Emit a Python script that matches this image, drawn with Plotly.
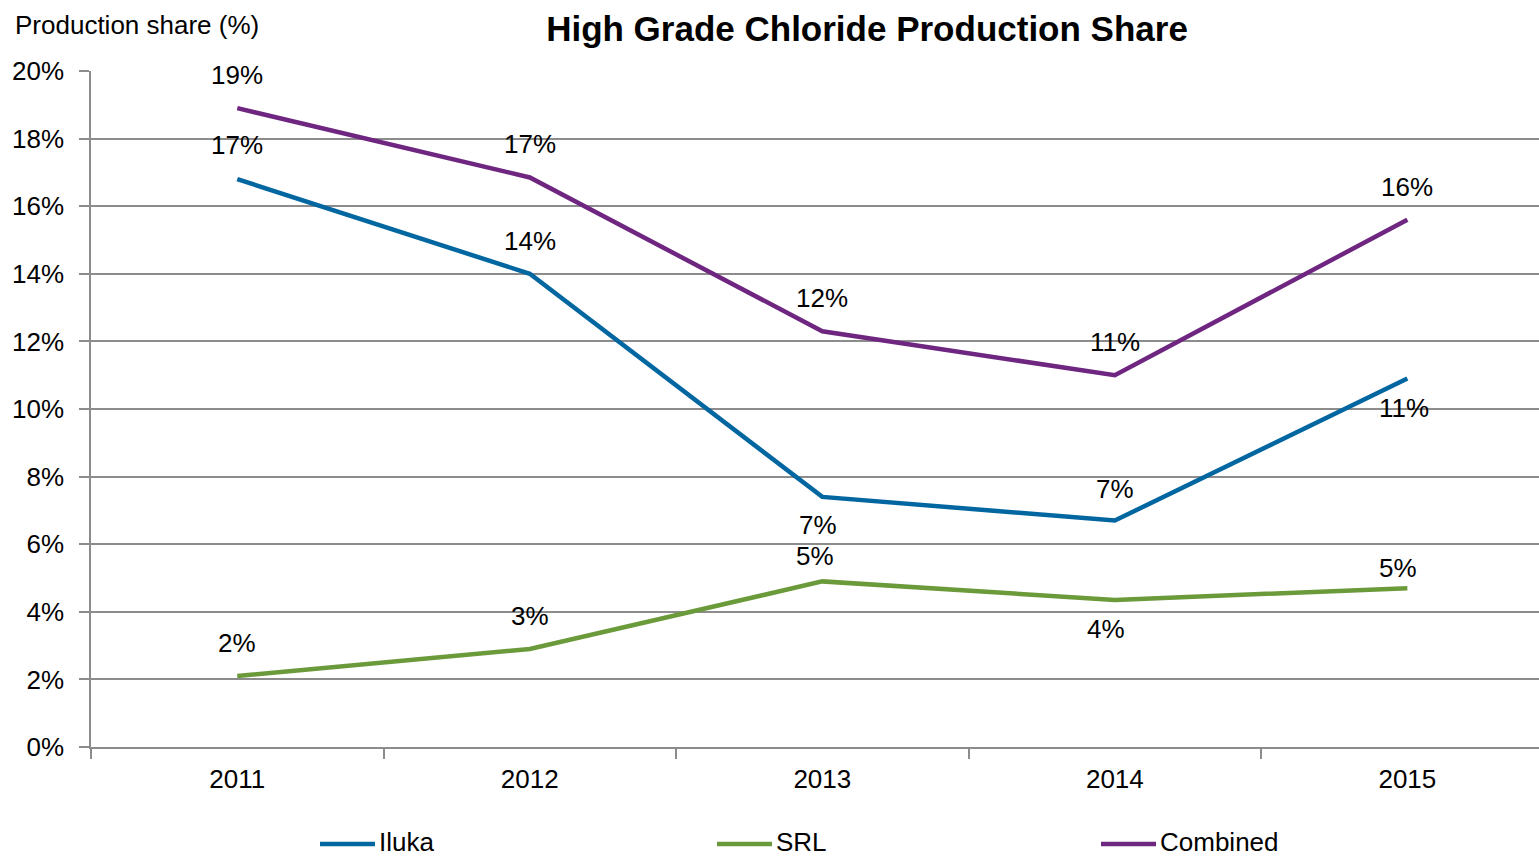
import plotly.graph_objects as go

years = ["2011", "2012", "2013", "2014", "2015"]
iluka = [16.8, 14.0, 7.4, 6.7, 10.9]
srl = [2.1, 2.9, 4.9, 4.35, 4.7]
combined = [18.9, 16.85, 12.3, 11.0, 15.6]

iluka_labels = ["17%", "14%", "7%", "7%", "11%"]
srl_labels = ["2%", "3%", "5%", "4%", "5%"]
combined_labels = ["19%", "17%", "12%", "11%", "16%"]

# label offsets from the point, in pixels (x shift, y shift; positive y = up)
iluka_off = [(0, 34), (0, 33), (-4, -28), (0, 32), (-3, -29)]
srl_off = [(0, 33), (0, 33), (-7, 25), (-9, -29), (-9, 20)]
combined_off = [(0, 33), (0, 33), (0, 33), (0, 33), (0, 33)]

colors = {"Iluka": "#0266A0", "SRL": "#6A9A3A", "Combined": "#6E2680"}
FONT = "Liberation Sans, Arial, sans-serif"
GRID = "#8C8C8C"
FS = 26

# plot-area geometry in pixels
L, R, T, B = 91, 1539, 71, 747
PW, PH = R - L, B - T


def px_x(p):
    return (p - L) / PW


def px_y(p):
    return (B - p) / PH


fig = go.Figure()
series = [("Iluka", iluka, iluka_labels, iluka_off),
          ("SRL", srl, srl_labels, srl_off),
          ("Combined", combined, combined_labels, combined_off)]

for name, vals, labs, offs in series:
    fig.add_trace(go.Scatter(x=years, y=vals, mode="lines", name=name,
                             line=dict(color=colors[name], width=4.5),
                             showlegend=False, hoverinfo="x+y+name"))

annotations = []
for name, vals, labs, offs in series:
    for i, (yv, lab, (dx, dy)) in enumerate(zip(vals, labs, offs)):
        annotations.append(dict(x=i, y=yv, xref="x", yref="y", text=lab,
                                showarrow=False, xshift=dx, yshift=dy,
                                font=dict(family=FONT, size=FS, color="#000000")))

annotations.append(dict(text="Production share (%)", xref="paper", yref="paper",
                        x=px_x(13), y=px_y(25), xanchor="left", yanchor="middle",
                        showarrow=False, font=dict(family=FONT, size=FS, color="#000000")))

# custom legend (line sample + label)
shapes = []
legend_x = {"Iluka": 320, "SRL": 717, "Combined": 1101}
legend_y = 842
for name, _, _, _ in series:
    x0 = legend_x[name]
    shapes.append(dict(type="line", xref="paper", yref="paper",
                       x0=px_x(x0), x1=px_x(x0 + 55), y0=px_y(legend_y + 2), y1=px_y(legend_y + 2),
                       line=dict(color=colors[name], width=4.5)))
    annotations.append(dict(text=name, xref="paper", yref="paper",
                            x=px_x(x0 + 57), y=px_y(legend_y), xanchor="left", yanchor="middle",
                            showarrow=False, font=dict(family=FONT, size=FS, color="#000000")))

fig.update_layout(
    width=1539, height=857,
    margin=dict(l=L, r=1539 - R, t=T, b=857 - B),
    paper_bgcolor="white", plot_bgcolor="white",
    title=dict(text="<b>High Grade Chloride Production Share</b>",
               xref="container", yref="container", x=867 / 1539, y=1 - 29 / 857,
               xanchor="center", yanchor="middle",
               font=dict(family=FONT, size=35, color="#000000")),
    annotations=annotations,
    shapes=shapes,
    showlegend=False,
    xaxis=dict(type="category", range=[-0.5, 4.45], tickson="boundaries",
               ticks="outside", ticklen=10, tickcolor=GRID, tickwidth=1.5,
               showline=True, linecolor=GRID, linewidth=1.5,
               showgrid=False, zeroline=False, ticklabelstandoff=8,
               tickfont=dict(family=FONT, size=FS, color="#000000")),
    yaxis=dict(range=[0, 20], dtick=2, ticksuffix="%",
               ticks="outside", ticklen=10, tickcolor=GRID, tickwidth=1.5,
               showline=True, linecolor=GRID, linewidth=1.5,
               showgrid=True, gridcolor=GRID, gridwidth=1.5, zeroline=False,
               ticklabelstandoff=10,
               tickfont=dict(family=FONT, size=FS, color="#000000")),
)

fig.write_html("out.html", config={"displayModeBar": False},
               post_script="document.body.style.margin='0';document.body.style.overflow='hidden';")
